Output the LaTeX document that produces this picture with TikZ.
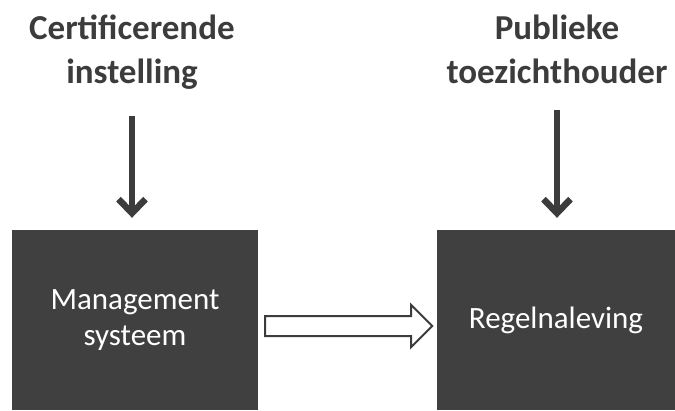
\documentclass[tikz,border=0pt]{standalone}
\usepackage{fontspec}
\setmainfont{Carlito}
\usetikzlibrary{arrows.meta,calc}
\definecolor{boxgray}{HTML}{404040}
\definecolor{inkgray}{HTML}{3C3C3C}
\tikzset{
  title/.style={align=center, text=inkgray, font=\bfseries\fontsize{35}{44}\selectfont, inner sep=0pt},
  block/.style={fill=boxgray, text=white, align=center, inner sep=0pt,
    font=\fontsize{31}{36}\selectfont},
  downarrow/.style={draw=inkgray, line width=6.5pt,
    -{Straight Barb[length=14pt, width=27pt]}},
  flowarrow/.style={draw=inkgray, line width=2pt, fill=white, line join=miter}
}
\begin{document}
\begin{tikzpicture}[x=1pt, y=-1pt]
  \useasboundingbox (0,0) rectangle (675,410);

  % headings
  \node[title, anchor=north] (cert) at (132,15) {Certificerende\\instelling};
  \node[title, anchor=north] (pub) at (557,15) {Publieke\\toezichthouder};

  % dark blocks
  \node[block, minimum width=246pt, minimum height=180pt] (mgmt) at (135,320) {Management\\systeem};
  \node[block, minimum width=238pt, minimum height=180pt] (regel) at (556,320) {Regelnaleving};

  % arrows from the headings down to the blocks
  \draw[downarrow] (cert.south) ++(0,26) coordinate (c1) -- ($(mgmt.north)+(-3,-12)$);
  \draw[downarrow] (pub.south) ++(0,26) coordinate (p1) -- ($(regel.north)+(1,-12)$);

  % outlined block arrow between the two blocks
  \draw[flowarrow] (mgmt.east) ++(7,-4) -- ++(146,0) -- ++(0,-11) -- ++(21,21)
    -- ++(-21,21) -- ++(0,-11) -- ++(-146,0) -- cycle;
\end{tikzpicture}
\end{document}
